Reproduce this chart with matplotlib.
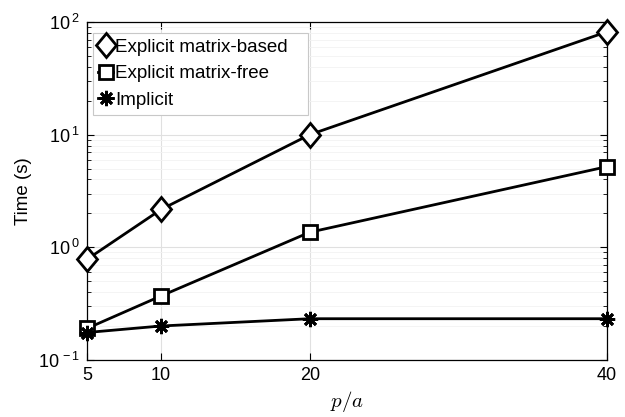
import numpy as np
import matplotlib
matplotlib.use('Agg')
import matplotlib.pyplot as plt
from matplotlib.ticker import FixedLocator, LogLocator, FuncFormatter, NullFormatter
from matplotlib.markers import MarkerStyle
from matplotlib.transforms import Affine2D

# Data
pa = [5, 10, 20, 40]
t_matrix_based = [0.78, 2.17, 10.0, 82.0]
t_matrix_free = [0.19, 0.37, 1.36, 5.2]
t_implicit = [0.175, 0.20, 0.232, 0.232]
xticks = [5, 10, 20, 40]

plt.rcParams['font.family'] = ['Liberation Sans', 'DejaVu Sans']
plt.rcParams['mathtext.fontset'] = 'cm'

fig = plt.figure(figsize=(6.25, 4.17), dpi=100)
ax = fig.add_axes([0.139, 0.137, 0.832, 0.810])

# MATLAB-like diamond: taller than wide
diamond = MarkerStyle('D')
diamond._transform = diamond.get_transform() + Affine2D().scale(0.85, 1.0)

ax.plot(pa, t_matrix_based, color='k', lw=2, marker=diamond, ms=12, mfc='white',
        mew=2, label='Explicit matrix-based', clip_on=False, zorder=3)
ax.plot(pa, t_matrix_free, color='k', lw=2, marker='s', ms=9.5, mfc='white',
        mew=2, label='Explicit matrix-free', clip_on=False, zorder=3)
ax.plot(pa, t_implicit, color='k', lw=2, marker=(8, 2, 0), ms=11,
        mew=2, label='Implicit', clip_on=False, zorder=3)

ax.set_yscale('log')
ax.set_xlim(5, 40)
ax.set_ylim(0.1, 100)
ax.xaxis.set_major_locator(FixedLocator(xticks))
ax.yaxis.set_major_locator(LogLocator(base=10, numticks=10))
ax.yaxis.set_minor_locator(LogLocator(base=10, subs=np.arange(2, 10), numticks=10))
ax.yaxis.set_minor_formatter(NullFormatter())
ax.yaxis.set_major_formatter(FuncFormatter(
    lambda v, p: r'$\mathregular{10^{\,%d}}$' % int(round(np.log10(v)))))

ax.tick_params(which='both', direction='in', top=True, right=True, labelsize=13)
ax.tick_params(which='major', length=5, width=0.8, pad=5)
ax.tick_params(which='minor', length=3, width=0.6)

ax.grid(True, which='major', color='#e0e0e0', lw=0.8)
ax.grid(True, which='minor', axis='y', color='#f2f2f2', lw=0.6)
ax.set_axisbelow(True)
for s in ax.spines.values():
    s.set_linewidth(0.9)

ax.set_xlabel('$p/a$', fontsize=15)
ax.set_ylabel('Time (s)', fontsize=13.5)

leg = ax.legend(loc='upper left', bbox_to_anchor=(0.0115, 0.0, 0.413, 0.967),
                mode='expand', borderaxespad=0, fontsize=13.5, handlelength=0.8,
                handletextpad=0.1, borderpad=0.3, labelspacing=0.5,
                fancybox=False, framealpha=1)
leg.get_frame().set_edgecolor('#c8c8c8')
leg.get_frame().set_linewidth(0.8)

fig.savefig('out.png', dpi=100)
